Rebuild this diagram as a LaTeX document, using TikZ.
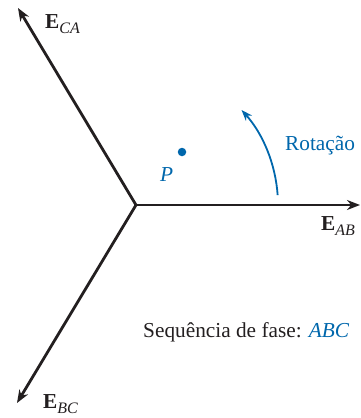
\documentclass[tikz,border=0pt]{standalone}
\usepackage{fontspec}
\setmainfont{Liberation Serif}
\usetikzlibrary{arrows.meta,calc}
\definecolor{phblue}{RGB}{0,103,172}
\definecolor{ink}{RGB}{35,31,32}
\tikzset{
  phasor/.style={draw=ink,line width=2.8pt,-{Stealth[length=13pt,width=10pt]}},
  rotarrow/.style={draw=phblue,line width=1.8pt,-{Stealth[length=11pt,width=8pt]}},
  lbl/.style={font=\fontsize{21.3}{25}\selectfont,inner sep=0pt,anchor=base west,text=ink},
  bluelbl/.style={lbl,text=phblue}
}
\newcommand{\phsub}[1]{\textbf{E}\raisebox{-0.28em}{\fontsize{16}{19}\selectfont\itshape #1}}
\begin{document}
\begin{tikzpicture}[x=1pt,y=-1pt]
\useasboundingbox (0,0) rectangle (361,418);
\coordinate (O) at (136,205);
\coordinate (tAB) at (360,205);
\coordinate (tCA) at (18,8);
\coordinate (tBC) at (17,403);
\draw[phasor] (O) -- (tAB);
\draw[phasor] (O) -- (tCA);
\draw[phasor] (O) -- (tBC);
\node[lbl] (lCA) at (45,28) {\phsub{CA}};
\node[lbl] (lAB) at (321,230) {\phsub{AB}};
\node[lbl] (lBC) at (43,408) {\phsub{BC}};
\coordinate (rs) at ($(O)+(-4:142)$);
\draw[rotarrow] (rs) arc[start angle=-4,end angle=-42,radius=142];
\node[bluelbl] (rot) at (285,150) {Rotação};
\node[circle,fill=phblue,inner sep=0pt,minimum size=8.5pt] (dot) at (182,152) {};
\node[bluelbl] (P) at (160,181) {\itshape P};
\node[lbl] (seq) at (143,337) {Sequência de fase: \textcolor{phblue}{\itshape ABC}};
\end{tikzpicture}
\end{document}
